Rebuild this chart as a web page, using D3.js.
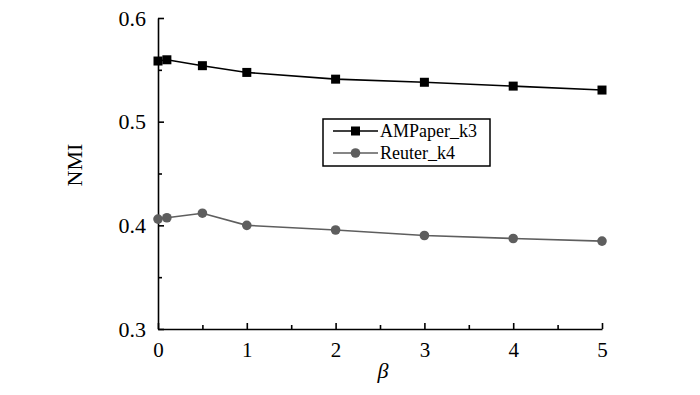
<!DOCTYPE html>
<html>
<head>
<meta charset="utf-8">
<script src="https://d3js.org/d3.v7.min.js"></script>
<style>
  body { margin: 0; background: #fff; }
</style>
</head>
<body>
<svg width="700" height="395"></svg>
<script>

var betas = [0, 0.1, 0.5, 1, 2, 3, 4, 5];
var amPaper = [0.5585, 0.5597, 0.554, 0.5475, 0.541, 0.538, 0.5343, 0.5305];
var reuter = [0.406, 0.4073, 0.4117, 0.4, 0.3955, 0.3902, 0.3873, 0.3848];
var seriesNames = ["AMPaper_k3", "Reuter_k4"];
var xTicks = [0, 1, 2, 3, 4, 5];
var yTicks = [0.3, 0.4, 0.5, 0.6];

var serif = "'Liberation Serif', 'Times New Roman', serif";

var svg = d3.select("svg");

var x = d3.scaleLinear().domain([0, 5]).range([158, 602]);
var y = d3.scaleLinear().domain([0.3, 0.6]).range([329, 18]);

var black = "#000";
var grey = "#5e5e5e";

// axes, ticks pointing inward
var xAxis = svg.append("g")
  .attr("transform", "translate(0," + y(0.3) + ")")
  .call(d3.axisBottom(x).tickValues(xTicks).tickSize(-6).tickSizeOuter(0).tickPadding(12).tickFormat(d3.format("d")));

var xMinor = svg.append("g")
  .attr("transform", "translate(0," + y(0.3) + ")")
  .call(d3.axisBottom(x).tickValues([0.5, 1.5, 2.5, 3.5, 4.5]).tickSize(-4).tickFormat(""));
xMinor.select(".domain").remove();

var yAxis = svg.append("g")
  .attr("transform", "translate(" + x(0) + ",0)")
  .call(d3.axisLeft(y).tickValues(yTicks).tickSize(-6).tickSizeOuter(0).tickPadding(12).tickFormat(d3.format(".1f")));

var yMinor = svg.append("g")
  .attr("transform", "translate(" + x(0) + ",0)")
  .call(d3.axisLeft(y).tickValues([0.35, 0.45, 0.55]).tickSize(-4).tickFormat(""));
yMinor.select(".domain").remove();

svg.selectAll(".domain, .tick line")
  .attr("stroke", black)
  .attr("stroke-width", 1.6);

xAxis.selectAll("text")
  .style("font-family", serif)
  .style("font-size", "21px")
  .attr("fill", black)
  .attr("y", 13)
  .attr("dy", "0.71em");
yAxis.selectAll("text")
  .style("font-family", serif)
  .style("font-size", "22px")
  .attr("fill", black)
  .attr("x", -12);

svg.append("text")
  .attr("transform", "translate(82,165) rotate(-90)")
  .attr("text-anchor", "middle")
  .style("font-family", serif)
  .style("font-size", "22px")
  .text("NMI");

svg.append("text")
  .attr("x", 383)
  .attr("y", 378)
  .attr("text-anchor", "middle")
  .style("font-family", serif)
  .style("font-size", "22px")
  .style("font-style", "italic")
  .text("β");

// lines
var line = d3.line()
  .x(function(d) { return x(d.b); })
  .y(function(d) { return y(d.v); });

var dataA = betas.map(function(b, i) { return {b: b, v: amPaper[i]}; });
var dataR = betas.map(function(b, i) { return {b: b, v: reuter[i]}; });

svg.append("path")
  .datum(dataR)
  .attr("fill", "none")
  .attr("stroke", grey)
  .attr("stroke-width", 1.6)
  .attr("d", line);

svg.selectAll(".ptR")
  .data(dataR)
  .enter().append("circle")
  .attr("class", "ptR")
  .attr("cx", function(d) { return x(d.b); })
  .attr("cy", function(d) { return y(d.v); })
  .attr("r", 4.8)
  .attr("fill", grey);

svg.append("path")
  .datum(dataA)
  .attr("fill", "none")
  .attr("stroke", black)
  .attr("stroke-width", 1.6)
  .attr("d", line);

var sq = 9;
svg.selectAll(".ptA")
  .data(dataA)
  .enter().append("rect")
  .attr("class", "ptA")
  .attr("x", function(d) { return x(d.b) - sq / 2; })
  .attr("y", function(d) { return y(d.v) - sq / 2; })
  .attr("width", sq)
  .attr("height", sq)
  .attr("fill", black);

// legend
var lg = svg.append("g").attr("transform", "translate(323,119)");

lg.append("rect")
  .attr("width", 167)
  .attr("height", 47)
  .attr("fill", "#fff")
  .attr("stroke", black)
  .attr("stroke-width", 1.5);

var rows = [{name: seriesNames[0], color: black, shape: "sq"}, {name: seriesNames[1], color: grey, shape: "c"}];

rows.forEach(function(r, i) {
  var yy = 12 + i * 22;
  lg.append("line")
    .attr("x1", 10).attr("x2", 55)
    .attr("y1", yy).attr("y2", yy)
    .attr("stroke", r.color)
    .attr("stroke-width", 1.6);
  if (r.shape == "sq") {
    lg.append("rect")
      .attr("x", 32.5 - 4.5).attr("y", yy - 4.5)
      .attr("width", 9).attr("height", 9)
      .attr("fill", r.color);
  }
  else {
    lg.append("circle")
      .attr("cx", 32.5).attr("cy", yy)
      .attr("r", 4.8)
      .attr("fill", r.color);
  }
  lg.append("text")
    .attr("x", 57)
    .attr("y", yy + 6)
    .style("font-family", serif)
    .style("font-size", "18px")
    .text(r.name);
});

</script>
</body>
</html>
